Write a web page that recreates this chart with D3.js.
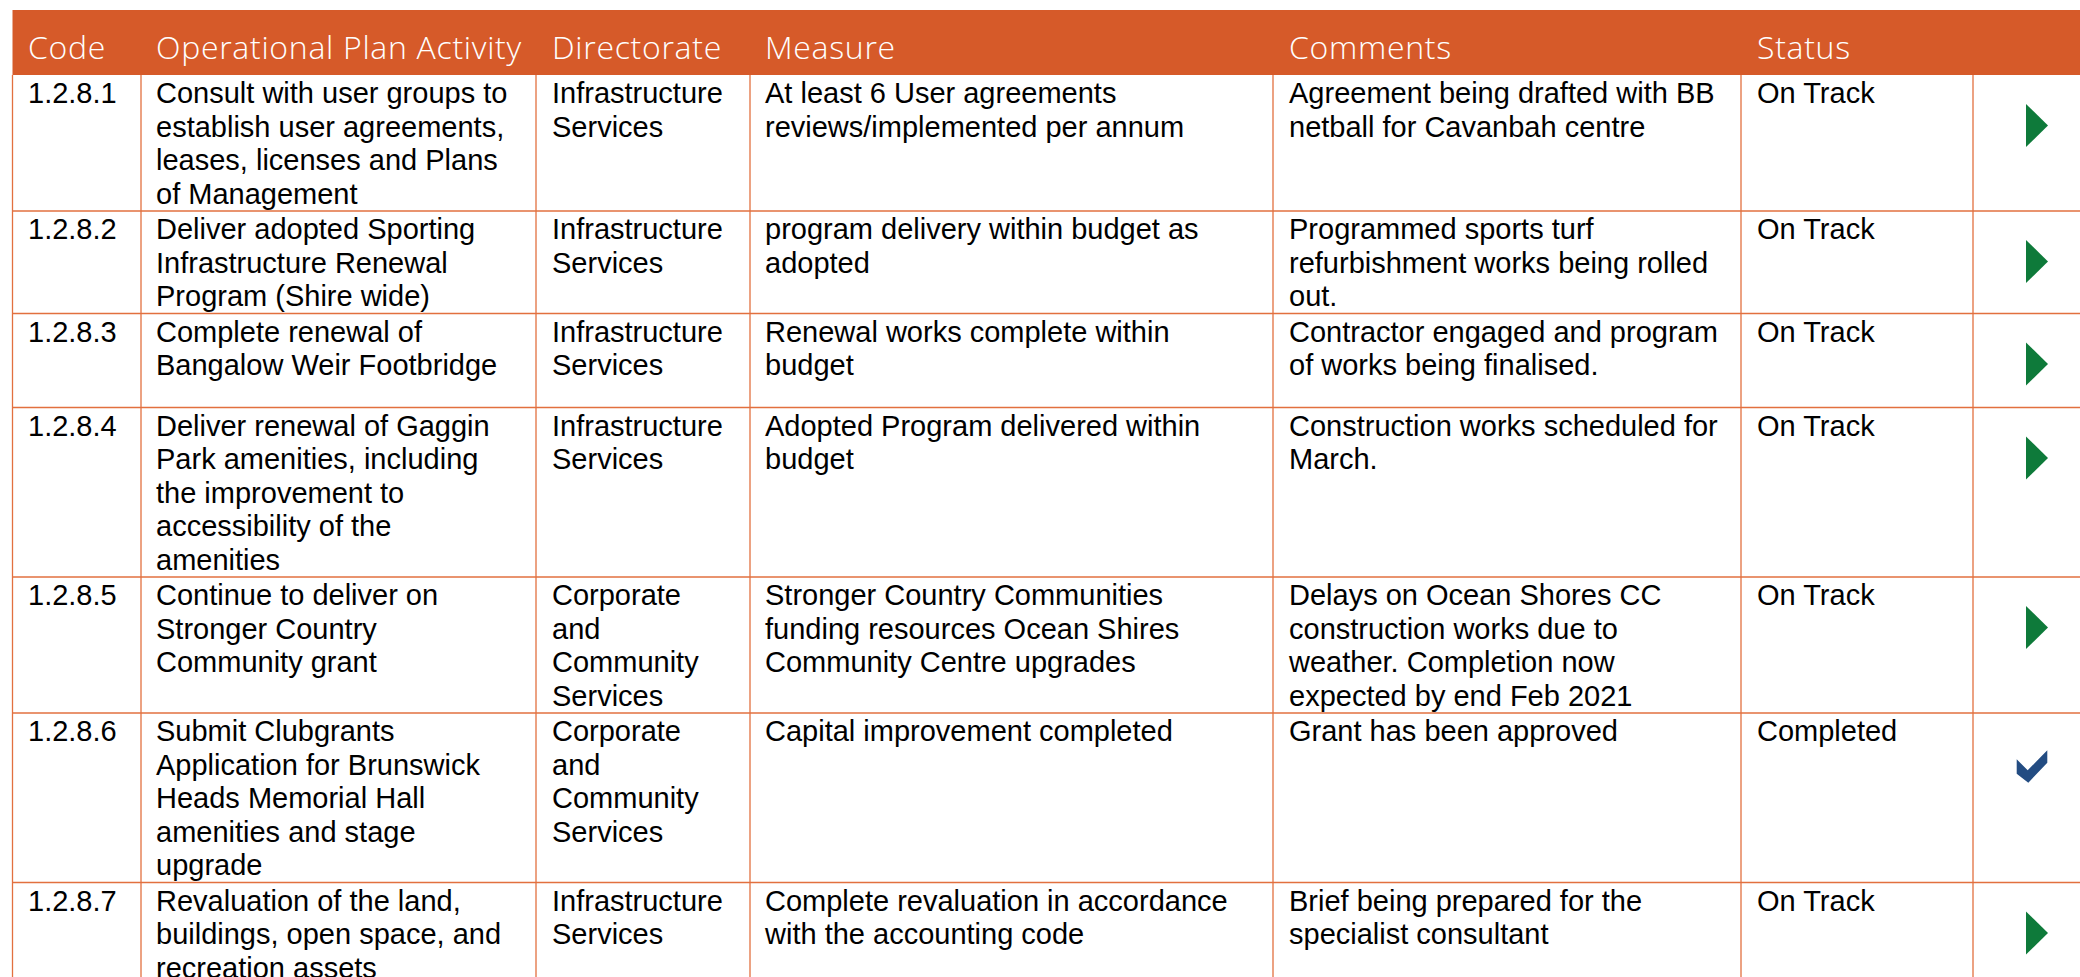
<!DOCTYPE html>
<html><head><meta charset="utf-8">
<script src="https://cdn.jsdelivr.net/npm/d3@7"></script>
<style>body{margin:0;background:#fff;overflow:hidden}</style>
</head><body>
<svg id="c" width="2080" height="977"></svg>
<script>
const headers = ["Code","Operational Plan Activity","Directorate","Measure","Comments","Status"];
const codes = ["1.2.8.1","1.2.8.2","1.2.8.3","1.2.8.4","1.2.8.5","1.2.8.6","1.2.8.7"];
const activities = [
  ["Consult with user groups to","establish user agreements,","leases, licenses and Plans","of Management"],
  ["Deliver adopted Sporting","Infrastructure Renewal","Program (Shire wide)"],
  ["Complete renewal of","Bangalow Weir Footbridge"],
  ["Deliver renewal of Gaggin","Park amenities, including","the improvement to","accessibility of the","amenities"],
  ["Continue to deliver on","Stronger Country","Community grant"],
  ["Submit Clubgrants","Application for Brunswick","Heads Memorial Hall","amenities and stage","upgrade"],
  ["Revaluation of the land,","buildings, open space, and","recreation assets"]
];
const directorates = [
  ["Infrastructure","Services"],["Infrastructure","Services"],["Infrastructure","Services"],["Infrastructure","Services"],
  ["Corporate","and","Community","Services"],["Corporate","and","Community","Services"],["Infrastructure","Services"]
];
const measures = [
  ["At least 6 User agreements","reviews/implemented per annum"],
  ["program delivery within budget as","adopted"],
  ["Renewal works complete within","budget"],
  ["Adopted Program delivered within","budget"],
  ["Stronger Country Communities","funding resources Ocean Shires","Community Centre upgrades"],
  ["Capital improvement completed"],
  ["Complete revaluation in accordance","with the accounting code"]
];
const comments = [
  ["Agreement being drafted with BB","netball for Cavanbah centre"],
  ["Programmed sports turf","refurbishment works being rolled","out."],
  ["Contractor engaged and program","of works being finalised."],
  ["Construction works scheduled for","March."],
  ["Delays on Ocean Shores CC","construction works due to","weather. Completion now","expected by end Feb 2021"],
  ["Grant has been approved"],
  ["Brief being prepared for the","specialist consultant"]
];
const statuses = ["On Track","On Track","On Track","On Track","On Track","Completed","On Track"];

const W = 2080, H = 977;
const ORANGE = "#D65A29", LINE = "#E2703F", GREEN = "#0E7A3A", BLUE = "#234C82";
const lineH = 33.5, headTop = 10, headBot = 75;
const svg = d3.select("#c");

const colKeys = ["code","act","dir","meas","com","stat","icon","end"];
const x = d3.scaleOrdinal().domain(colKeys).range([12.5,141,536,750,1273,1741,1973,2200]);
const textX = d3.scaleOrdinal().domain(headers).range([28,156,552,765,1289,1757]);

const rows = codes.map((c,i)=>({
  cells:[[c],activities[i],directorates[i],measures[i],comments[i],[statuses[i]]],
  status:statuses[i]
}));
rows.forEach(r=>{ r.n = d3.max(r.cells,c=>c.length); r.h = Math.max(r.n*lineH+2, 94); });
let acc = 0; rows.forEach(r=>{ r.t0 = acc; acc += r.h; r.t1 = acc; });
const y = d3.scaleLinear().domain([0,1]).range([headBot, headBot+1]);

// header band
svg.append("rect").attr("x",x("code")).attr("y",headTop).attr("width",W-x("code")).attr("height",headBot-headTop).attr("fill",ORANGE);
svg.selectAll("text.h").data(headers).join("text").attr("class","h")
  .attr("x",d=>textX(d)).attr("y",59.3)
  .attr("fill","#fff").attr("font-family","'Open Sans', sans-serif").attr("font-weight",300)
  .attr("font-size",32).attr("letter-spacing",0.7).text(d=>d);

// grid lines
const g = svg.append("g");
g.selectAll("line.h").data(rows).join("line").attr("class","h")
  .attr("x1",x("code")).attr("x2",W).attr("y1",d=>y(d.t1)).attr("y2",d=>y(d.t1))
  .attr("stroke",LINE).attr("stroke-width",1.3);
g.selectAll("line.v").data(colKeys.slice(0,7)).join("line").attr("class","v")
  .attr("x1",d=>x(d)).attr("x2",d=>x(d)).attr("y1",headBot).attr("y2",H)
  .attr("stroke",LINE).attr("stroke-width",1.3);

// cell texts
const rg = svg.selectAll("g.row").data(rows).join("g").attr("class","row");
rg.each(function(r){
  const s = d3.select(this);
  r.cells.forEach((lines,ci)=>{
    const t = s.append("text").attr("x",textX(headers[ci])).attr("y",y(r.t0)+28)
      .attr("font-family","'Liberation Sans', Arial, sans-serif").attr("font-size",29).attr("fill","#000");
    lines.forEach((l,li)=>t.append("tspan").attr("x",textX(headers[ci])).attr("y",y(r.t0)+28+li*lineH).text(l));
  });
  const cx = x("icon");
  const top = y(r.t0);
  if (r.status === "Completed") {
    const pts = [[0,9],[11,20],[30.6,0],[30.6,12.4],[11.6,32.4],[0,23.4]].map(p=>[cx+43.7+p[0], top+37.3+p[1]]);
    s.append("polygon").attr("points",pts.map(p=>p.join(",")).join(" ")).attr("fill",BLUE);
  } else {
    const pts = [[0,29],[22,50.5],[0,72]].map(p=>[cx+53+p[0], top+p[1]]);
    s.append("polygon").attr("points",pts.map(p=>p.join(",")).join(" ")).attr("fill",GREEN);
  }
});
</script>
</body></html>
